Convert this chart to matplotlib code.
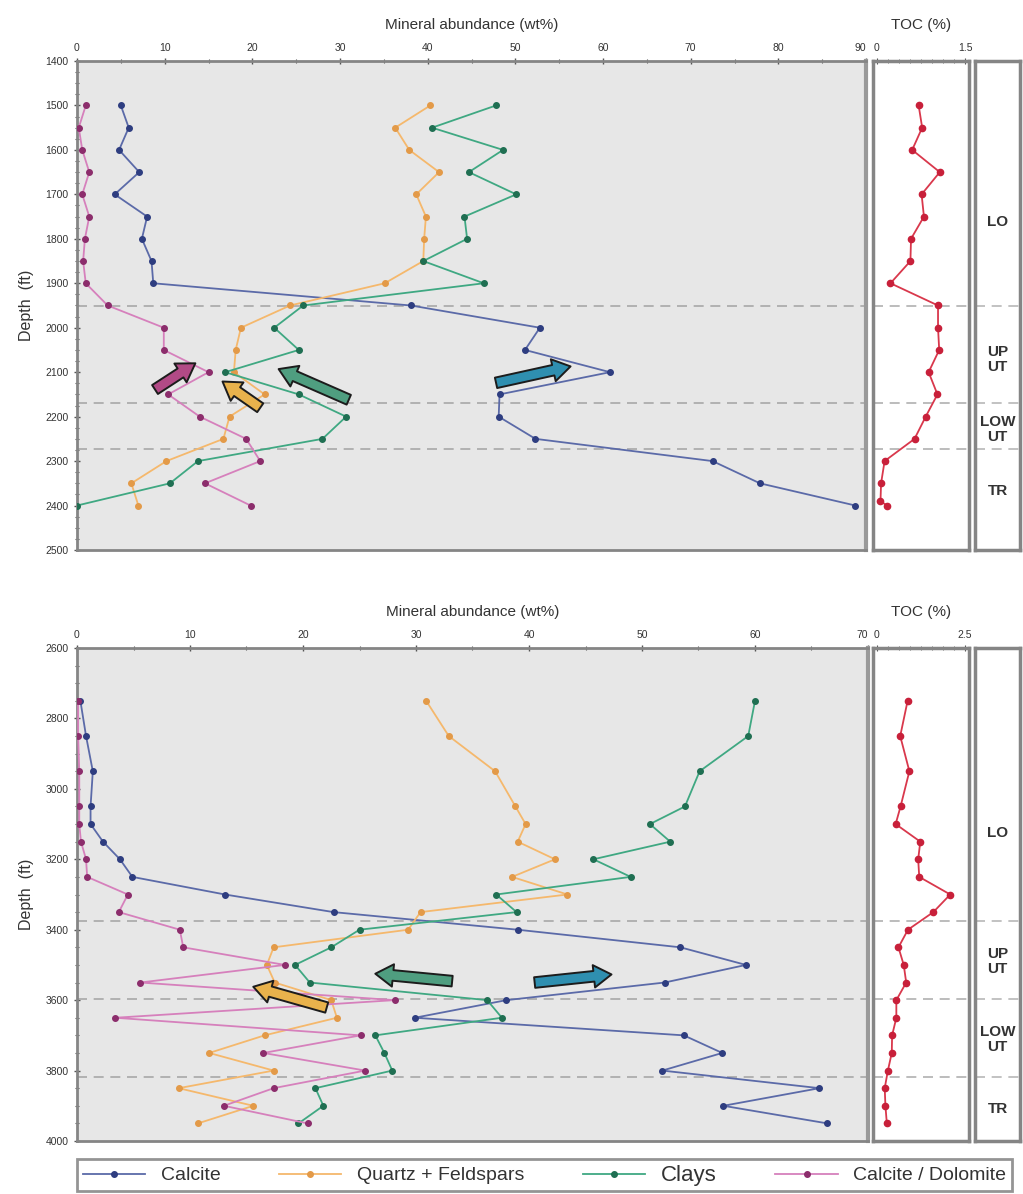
import matplotlib
matplotlib.use("Agg")
import matplotlib.pyplot as plt
from matplotlib.lines import Line2D
from matplotlib.ticker import MultipleLocator

plt.rcParams['font.family'] = ['Liberation Sans', 'DejaVu Sans']

# ---------------- Upper well (1400-2500 ft) ----------------
top_depth = [1500, 1550, 1600, 1650, 1700, 1750, 1800, 1850, 1900, 1950,
             2000, 2050, 2100, 2150, 2200, 2250, 2300, 2350, 2400]
top_calcite = [5.0, 5.9, 4.8, 7.1, 4.3, 8.0, 7.4, 8.5, 8.7, 38.1,
               52.8, 51.1, 60.8, 48.2, 48.1, 52.3, 72.5, 77.9, 88.8]
top_quartz = [40.3, 36.3, 37.9, 41.3, 38.7, 39.8, 39.6, 39.5, 35.1, 24.3,
              18.7, 18.1, 17.9, 21.4, 17.4, 16.7, 10.2, 6.2, 7.0]
top_clays = [47.8, 40.5, 48.6, 44.7, 50.1, 44.2, 44.5, 39.5, 46.4, 25.8,
             22.5, 25.3, 16.9, 25.3, 30.7, 28.0, 13.8, 10.6, 0.0]
top_caldol = [1.0, 0.2, 0.6, 1.4, 0.6, 1.4, 0.9, 0.7, 1.0, 3.5,
              9.9, 9.9, 15.0, 10.4, 14.0, 19.3, 20.9, 14.6, 19.8]
top_toc_depth = [1500, 1550, 1600, 1650, 1700, 1750, 1800, 1850, 1900, 1950,
                 2000, 2050, 2100, 2150, 2200, 2250, 2300, 2350, 2390, 2400]
top_toc = [0.71, 0.77, 0.60, 1.07, 0.76, 0.80, 0.58, 0.57, 0.23, 1.04,
           1.04, 1.06, 0.88, 1.03, 0.83, 0.64, 0.13, 0.07, 0.06, 0.17]
top_bounds = [1952, 2170, 2272]
top_units = ["LO", "UP\nUT", "LOW\nUT", "TR"]
top_unit_depth = [1762, 2072, 2229, 2368]

# ---------------- Lower well (2600-4000 ft) ----------------
bot_depth = [2750, 2850, 2950, 3050, 3100, 3150, 3200, 3250, 3300, 3350, 3400,
             3450, 3500, 3550, 3600, 3650, 3700, 3750, 3800, 3850, 3900, 3950]
bot_calcite = [0.3, 0.8, 1.4, 1.2, 1.2, 2.3, 3.8, 4.9, 13.1, 22.7, 39.0,
               53.4, 59.2, 52.0, 38.0, 29.9, 53.7, 57.1, 51.8, 65.7, 57.2, 66.4]
bot_quartz = [30.9, 32.9, 37.0, 38.8, 39.7, 39.0, 42.3, 38.5, 43.4, 30.4, 29.3,
              17.4, 16.8, 17.5, 22.5, 23.0, 16.6, 11.7, 17.4, 9.0, 15.6, 10.7]
bot_clays = [60.0, 59.4, 55.1, 53.8, 50.7, 52.5, 45.7, 49.0, 37.1, 38.9, 25.0,
             22.5, 19.3, 20.6, 36.3, 37.6, 26.4, 27.2, 27.9, 21.1, 21.8, 19.6]
bot_caldol = [0.1, 0.1, 0.2, 0.2, 0.2, 0.35, 0.8, 0.9, 4.5, 3.7, 9.1,
              9.4, 18.4, 5.6, 28.1, 3.4, 25.1, 16.5, 25.5, 17.4, 13.0, 20.4]
bot_toc = [0.87, 0.66, 0.92, 0.67, 0.53, 1.23, 1.17, 1.20, 2.08, 1.60, 0.88,
           0.61, 0.76, 0.83, 0.55, 0.55, 0.43, 0.42, 0.31, 0.22, 0.24, 0.28]
bot_bounds = [3375, 3597, 3818]
bot_units = ["LO", "UP\nUT", "LOW\nUT", "TR"]
bot_unit_depth = [3124, 3490, 3712, 3910]

series_names = ["Calcite", "Quartz + Feldspars", "Clays", "Calcite / Dolomite"]
line_colors = ["#5b6aa8", "#f5b86c", "#3fa882", "#d680bc"]
marker_colors = ["#2e3d80", "#e39a48", "#1f6f52", "#8c2d6c"]

# Trend arrows: (tail_x, tail_depth, head_x, head_depth, fill)
top_arrows = [
    (8.9, 2139, 13.5, 2080, "#b24a86"),
    (20.9, 2180, 16.6, 2121, "#e8b24c"),
    (31.0, 2162, 23.0, 2093, "#4f9e80"),
    (47.8, 2124, 56.3, 2087, "#2f8fb0"),
]
bot_arrows = [
    (33.2, 3546, 26.4, 3525, "#4f9e80"),
    (40.5, 3550, 47.3, 3527, "#2f8fb0"),
    (22.1, 3621, 15.6, 3562, "#e8b24c"),
]

W, H = 1023, 1194
fig = plt.figure(figsize=(W / 100, H / 100), dpi=100)
fig.patch.set_facecolor("white")


def rect(x0, y0, x1, y1):
    return [x0 / W, 1 - y1 / H, (x1 - x0) / W, (y1 - y0) / H]


SPINE = "#858585"


def style_spines(ax, lw=2.0):
    for s in ax.spines.values():
        s.set_color(SPINE)
        s.set_linewidth(lw)


def draw_panel(y0, y1, x_right, xmax, ylim, ymajor, yminor,
               depth, series, toc_depth, toc, toc_max, bounds,
               units, unit_depth, arrows):
    # mineral abundance track
    ax = fig.add_axes(rect(77, y0, x_right, y1))
    ax.set_facecolor("#e7e7e7")
    for vals, lc, mc in zip(series, line_colors, marker_colors):
        ax.plot(vals, depth, color=lc, lw=1.3, marker="o", ms=4,
                mfc=mc, mec=mc, zorder=3)
    for b in bounds:
        ax.axhline(b, color="#a8a8a8", lw=1.2, ls=(0, (6, 4)), zorder=2)
    for tx, td, hx, hd, fc in arrows:
        ax.annotate("", xy=(hx, hd), xytext=(tx, td),
                    arrowprops=dict(arrowstyle="simple,head_length=0.75,"
                                    "head_width=0.95,tail_width=0.45",
                                    mutation_scale=17, fc=fc, ec="#1c1c1c",
                                    lw=1.4, shrinkA=0, shrinkB=0),
                    zorder=5)
    ax.set_xlim(0, xmax)
    ax.set_ylim(*ylim)
    ax.invert_yaxis()
    ax.xaxis.tick_top()
    ax.xaxis.set_label_position("top")
    ax.xaxis.set_major_locator(MultipleLocator(10))
    ax.xaxis.set_minor_locator(MultipleLocator(5))
    ax.yaxis.set_major_locator(MultipleLocator(ymajor))
    ax.yaxis.set_minor_locator(MultipleLocator(yminor))
    ax.tick_params(which="both", direction="inout", colors="#555555",
                   labelcolor="#333333", labelsize=7.5)
    ax.tick_params(which="major", length=5, width=1)
    ax.tick_params(which="minor", length=3, width=0.8)
    ax.set_xlabel("Mineral abundance (wt%)", fontsize=11, color="#333333",
                  labelpad=10)
    ax.set_ylabel("Depth  (ft)", fontsize=11.5, color="#333333", labelpad=8)
    style_spines(ax)
    ax.spines["right"].set_linewidth(3)
    ax.spines["right"].set_color("#9a9a9a")

    # TOC track
    tx = fig.add_axes(rect(873, y0, 969, y1))
    tx.set_facecolor("white")
    tx.plot(toc, toc_depth, color="#d9384c", lw=1.3, marker="o", ms=4.5,
            mfc="#c8203a", mec="#c8203a", zorder=3)
    for b in bounds:
        tx.axhline(b, color="#b0b0b0", lw=1.2, ls=(0, (6, 4)), zorder=2)
    pad = toc_max * 0.045
    tx.set_xlim(-pad, toc_max + pad)
    tx.set_ylim(*ylim)
    tx.invert_yaxis()
    tx.xaxis.tick_top()
    tx.xaxis.set_label_position("top")
    tx.set_xticks([0, toc_max])
    tx.set_xticklabels(["0", f"{toc_max:g}"])
    tx.xaxis.set_minor_locator(MultipleLocator(toc_max / 8))
    tx.set_yticks([])
    tx.tick_params(which="both", direction="inout", colors="#555555",
                   labelcolor="#333333", labelsize=7.5)
    tx.tick_params(which="major", length=5)
    tx.tick_params(which="minor", length=3)
    tx.set_xlabel("TOC (%)", fontsize=11, color="#333333", labelpad=10)
    style_spines(tx, 2.5)

    # stratigraphic unit column
    ux = fig.add_axes(rect(975, y0, 1020, y1))
    ux.set_facecolor("white")
    ux.set_xlim(0, 1)
    ux.set_ylim(*ylim)
    ux.invert_yaxis()
    for b in bounds:
        ux.axhline(b, color="#b8b8b8", lw=1.2, ls=(0, (6, 4)), zorder=1)
    for lab, d in zip(units, unit_depth):
        ux.text(0.5, d, lab, ha="center", va="center", fontsize=11,
                fontweight="bold", color="#333333", linespacing=1.1,
                zorder=3)
    ux.set_xticks([])
    ux.set_yticks([])
    style_spines(ux, 2.5)
    return ax


axes = []
axes.append(draw_panel(61, 550, 866, 90, (1400, 2500), 100, 25,
            top_depth, [top_calcite, top_quartz, top_clays, top_caldol],
            top_toc_depth, top_toc, 1.5, top_bounds,
            top_units, top_unit_depth, top_arrows))

axes.append(draw_panel(648, 1141, 868, 70, (2600, 4000), 200, 50,
            bot_depth, [bot_calcite, bot_quartz, bot_clays, bot_caldol],
            bot_depth, bot_toc, 2.5, bot_bounds,
            bot_units, bot_unit_depth, bot_arrows))

# right-align the final abundance tick label so it sits left of the TOC "0"
for ax in axes:
    xmax = ax.get_xlim()[1]
    for t, lab in zip(ax.get_xticks(), ax.get_xticklabels()):
        if abs(t - xmax) < 1e-6:
            lab.set_ha("right")

handles = [Line2D([0], [0], color=lc, lw=1.3, marker="o", ms=4,
                  mfc=mc, mec=mc)
           for lc, mc in zip(line_colors, marker_colors)]
bx = rect(77, 1157, 1012, 1193)
leg = fig.legend(handles, series_names, loc="center",
                 bbox_to_anchor=(bx[0], bx[1], bx[2], bx[3]),
                 mode="expand", ncol=4, fontsize=14, frameon=True,
                 fancybox=False, handlelength=3.2, borderaxespad=0,
                 handletextpad=0.8, columnspacing=1.5, borderpad=0.3)
leg.get_frame().set_edgecolor("#7a7a7a")
leg.get_frame().set_linewidth(2)
for t in leg.get_texts():
    t.set_color("#333333")
leg.get_texts()[2].set_fontsize(16)

fig.savefig("out.png", dpi=100, facecolor="white")
